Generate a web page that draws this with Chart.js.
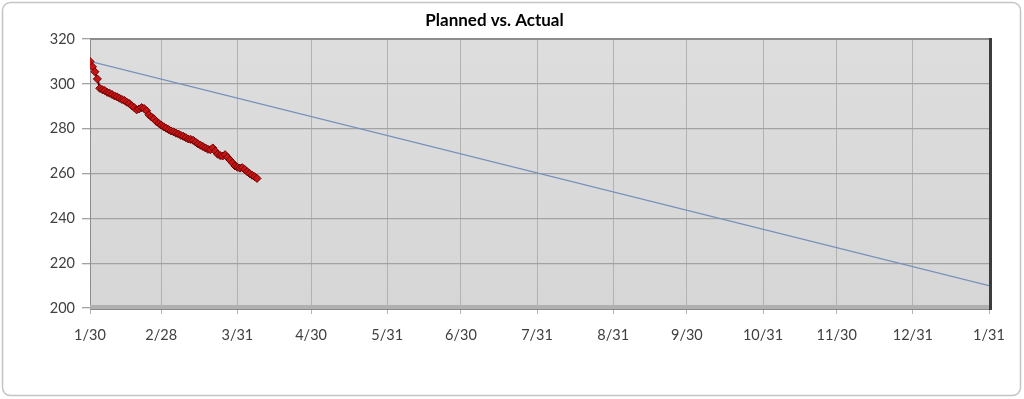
<!DOCTYPE html>
<html>
<head>
<meta charset="utf-8">
<script src="https://cdn.jsdelivr.net/npm/chart.js@4/dist/chart.umd.min.js"></script>
<style>
   body { margin: 0; background: #fff; }
   canvas { display: block; }
</style>
</head>
<body>
<canvas id="myChart" width="1024" height="399"></canvas>
<script>
// x axis: days counted from 1/30
const tickDays = [0, 29, 60, 90, 121, 151, 182, 213, 243, 274, 304, 335, 366];
const tickLabels = ["1/30", "2/28", "3/31", "4/30", "5/31", "6/30", "7/31", "8/31", "9/30", "10/31", "11/30", "12/31", "1/31"];

// planned: straight line from start to end
const plannedDays = [0, 366];
const plannedValues = [310, 210];

// actual: one reading per day starting 1/30
const actualValues = [
   310, 307.6, 305.4, 302.2, 298, 297.4, 297, 296.2, 295.8, 295.2,
   294.6, 294.2, 293.6, 293, 292.6, 291.8, 291.2, 290.2, 289.4, 288.4,
   288.8, 289.4, 289, 288, 286.2, 285.2, 284.4, 283.2, 282.4, 281.6,
   280.8, 280.2, 279.6, 279, 278.6, 278, 277.6, 277, 276.6, 276,
   275.4, 275.2, 274.8, 274, 273.2, 272.6, 272, 271.4, 270.8, 270.6,
   271.4, 270, 268.6, 268, 267.8, 268.4, 267.2, 266, 264.8, 263.4,
   262.8, 262.4, 262.6, 261.8, 260.8, 260, 259.2, 258.6, 257.8
];

const fontFamily = "Lato, 'Open Sans', sans-serif";

// background, outer frame and the excel-like 3d walls
const chartFrame = {
   id: "chartFrame",
   beforeDraw(chart) {
      let ctx = chart.ctx;
      let a = chart.chartArea;
      ctx.save();
      ctx.fillStyle = "#fff";
      ctx.fillRect(0, 0, chart.width, chart.height);
      ctx.strokeStyle = "#c4c4c4";
      ctx.lineWidth = 1.5;
      ctx.beginPath();
      ctx.roundRect(2.5, 2.5, chart.width - 6, chart.height - 6, 8);
      ctx.stroke();
      let grad = ctx.createLinearGradient(0, a.top, 0, a.bottom);
      grad.addColorStop(0, "#dddddd");
      grad.addColorStop(1, "#d6d6d6");
      ctx.fillStyle = grad;
      ctx.fillRect(a.left, a.top, a.right - a.left, a.bottom - a.top);
      ctx.restore();
   },
   beforeDatasetsDraw(chart) {
      let ctx = chart.ctx;
      let a = chart.chartArea;
      ctx.save();
      // top edge
      ctx.fillStyle = "#8c8c8c";
      ctx.fillRect(a.left, a.top - 1, a.right - a.left, 2);
      // floor
      ctx.fillStyle = "#b0b0b0";
      ctx.fillRect(a.left, a.bottom - 3, a.right - a.left + 3, 4);
      ctx.fillStyle = "#8a8a8a";
      ctx.fillRect(a.left, a.bottom + 1, a.right - a.left + 3, 1);
      // right wall
      ctx.fillStyle = "#3c3c3c";
      ctx.fillRect(a.right, a.top - 1, 3, a.bottom - a.top + 3);
      ctx.restore();
   }
};

let ctx = document.getElementById("myChart").getContext("2d");
let myChart = new Chart(ctx, {
   type: "line",
   data: {
      datasets: [{
         label: "Planned",
         data: plannedDays.map((d, i) => ({ x: d, y: plannedValues[i] })),
         borderColor: "#7690b9",
         borderWidth: 1.2,
         pointRadius: 0,
         order: 2
      }, {
         label: "Actual",
         data: actualValues.map((v, i) => ({ x: i, y: v })),
         borderColor: "#4a0000",
         borderWidth: 2,
         pointStyle: "rectRot",
         pointRadius: 4,
         pointBorderWidth: 1,
         pointBorderColor: "#6a0000",
         pointBackgroundColor: "#c81414",
         order: 1
      }]
   },
   options: {
      responsive: false,
      animation: false,
      devicePixelRatio: 1,
      layout: { padding: { left: 0, right: 35, top: 0, bottom: 0 } },
      plugins: {
         legend: { display: false },
         tooltip: { enabled: false },
         title: {
            display: true,
            text: "Planned vs. Actual",
            color: "#000",
            font: { family: fontFamily, size: 17, weight: "bold", lineHeight: 1.2 },
            padding: { top: 10, bottom: 8.6 }
         }
      },
      scales: {
         x: {
            type: "linear",
            min: 0,
            max: 366,
            afterBuildTicks: scale => {
               scale.ticks = tickDays.map(d => ({ value: d }));
            },
            afterFit: scale => { scale.height = 91; },
            ticks: {
               autoSkip: false,
               maxRotation: 0,
               padding: 13,
               color: "#404040",
               font: { family: fontFamily, size: 14.5 },
               callback: value => tickLabels[tickDays.indexOf(value)]
            },
            grid: { color: "#b2b2b2", lineWidth: 1, tickLength: 6 },
            border: { display: false }
         },
         y: {
            min: 200,
            max: 320,
            afterFit: scale => { scale.width = 90; },
            ticks: {
               stepSize: 20,
               padding: 7,
               color: "#404040",
               font: { family: fontFamily, size: 14.5 }
            },
            grid: { color: "#a2a2a2", lineWidth: 1.3, tickLength: 8 },
            border: { color: "#8c8c8c", width: 1 }
         }
      }
   },
   plugins: [chartFrame]
});
</script>
</body>
</html>
